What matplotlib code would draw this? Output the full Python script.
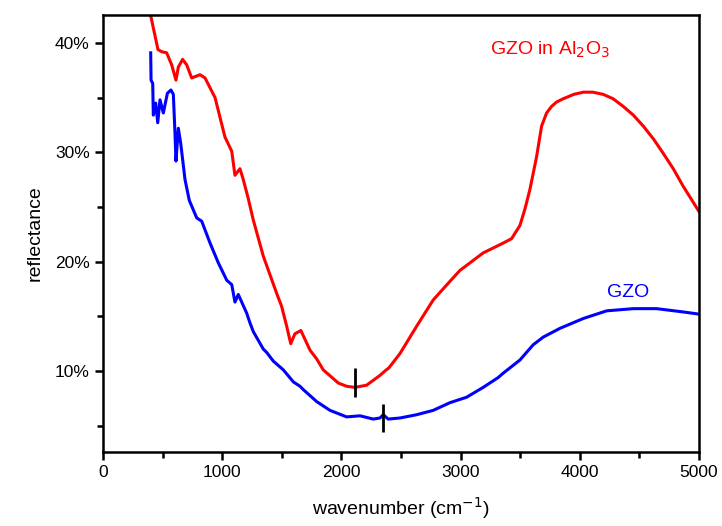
import matplotlib
matplotlib.use("Agg")
import matplotlib.pyplot as plt
from matplotlib.ticker import MultipleLocator, FuncFormatter

plt.rcParams['font.family'] = ['Liberation Sans', 'DejaVu Sans']

# GZO in Al2O3 (red)
red_x = [400, 461, 492, 534, 576, 612, 632, 668, 702, 744, 814, 856, 940, 1023,
         1080, 1107, 1149, 1177, 1218, 1261, 1345, 1457, 1499, 1541, 1575, 1610,
         1660, 1737, 1793, 1848, 1932, 1974, 2044, 2114, 2212, 2324, 2366, 2400,
         2492, 2632, 2771, 2911, 2995, 3190, 3358, 3428, 3498, 3540, 3582, 3638,
         3680, 3722, 3764, 3806, 3862, 3950, 4030, 4110, 4197, 4280, 4365, 4450,
         4533, 4620, 4701, 4785, 4868, 5000]
red_y = [42.5, 39.4, 39.2, 39.1, 38.0, 36.6, 37.8, 38.5, 38.0, 36.8, 37.1, 36.8,
         35.0, 31.4, 30.1, 27.9, 28.5, 27.5, 25.8, 23.8, 20.5, 17.1, 15.9, 14.1,
         12.5, 13.4, 13.7, 11.9, 11.1, 10.1, 9.3, 8.9, 8.6, 8.5, 8.7, 9.6, 10.0,
         10.3, 11.6, 14.1, 16.5, 18.2, 19.2, 20.8, 21.7, 22.1, 23.3, 24.8, 26.6,
         29.6, 32.4, 33.6, 34.2, 34.6, 34.9, 35.3, 35.5, 35.5, 35.3, 34.9, 34.2,
         33.4, 32.4, 31.2, 29.9, 28.5, 26.9, 24.6]

# GZO (blue)
blue_x = [400, 403, 417, 422, 442, 459, 478, 506, 540, 570, 590, 604, 612, 632,
          652, 688, 724, 786, 828, 898, 967, 1038, 1080, 1107, 1135, 1205, 1233,
          1261, 1345, 1373, 1429, 1513, 1597, 1653, 1680, 1793, 1904, 1974, 2044,
          2156, 2268, 2324, 2351, 2393, 2492, 2632, 2771, 2911, 3051, 3190, 3316,
          3358, 3498, 3610, 3694, 3834, 4030, 4226, 4449, 4645, 4868, 5000]
blue_y = [39.1, 36.6, 36.3, 33.4, 34.5, 32.7, 34.8, 33.6, 35.4, 35.7, 35.3, 31.7,
          29.2, 32.2, 30.8, 27.5, 25.6, 24.0, 23.7, 21.7, 19.9, 18.3, 17.9, 16.3,
          17.0, 15.3, 14.4, 13.6, 12.0, 11.7, 10.9, 10.1, 9.0, 8.6, 8.3, 7.2, 6.4,
          6.1, 5.8, 5.9, 5.6, 5.7, 6.0, 5.6, 5.7, 6.0, 6.4, 7.1, 7.6, 8.5, 9.4,
          9.8, 11.0, 12.4, 13.1, 13.9, 14.8, 15.5, 15.7, 15.7, 15.4, 15.2]

# minimum markers
mark_x = [2114, 2351]
mark_lo = [7.6, 4.4]
mark_hi = [10.3, 7.0]

fig = plt.figure(figsize=(7.22, 5.26), dpi=100)
ax = fig.add_axes([0.1427, 0.1407, 0.8253, 0.8308])

ax.plot(red_x, red_y, color='#ff0000', lw=2.2, solid_joinstyle='round')
ax.plot(blue_x, blue_y, color='#0000ff', lw=2.2, solid_joinstyle='round')
ax.vlines(mark_x, mark_lo, mark_hi, color='black', lw=2.0)

ax.text(3250, 39.4, 'GZO in Al$_2$O$_3$', color='#ff0000', fontsize=14,
        va='center', ha='left')
ax.text(4230, 17.2, 'GZO', color='#0000ff', fontsize=14, va='center', ha='left')

ax.set_xlim(0, 5000)
ax.set_ylim(2.59, 42.56)
ax.xaxis.set_major_locator(MultipleLocator(1000))
ax.xaxis.set_minor_locator(MultipleLocator(500))
ax.yaxis.set_major_locator(MultipleLocator(10))
ax.yaxis.set_minor_locator(MultipleLocator(5))
ax.yaxis.set_major_formatter(FuncFormatter(lambda v, p: '%d%%' % v))

for s in ax.spines.values():
    s.set_linewidth(1.8)
ax.tick_params(which='major', direction='out', length=6, width=1.8, labelsize=12.5)
ax.tick_params(which='minor', direction='out', length=4, width=1.8)

ax.set_xlabel('wavenumber (cm$^{-1}$)', fontsize=14, labelpad=11)
ax.set_ylabel('reflectance', fontsize=14, labelpad=8)

fig.savefig('out.png', dpi=100)
